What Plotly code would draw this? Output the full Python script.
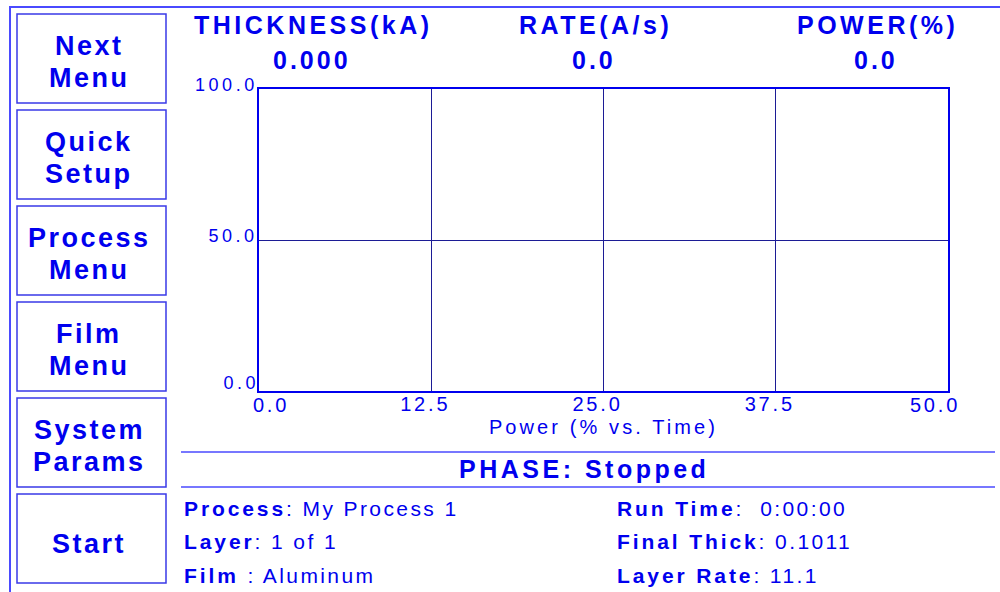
import plotly.graph_objects as go

# ---------------- data ----------------
time_values = []
power_values = []
x_range = [0, 50]
y_range = [0, 100]
x_tick_values = [0.0, 12.5, 25.0, 37.5, 50.0]
x_tick_labels = ["0.0", "12.5", "25.0", "37.5", "50.0"]
y_tick_values = [0.0, 50.0, 100.0]
y_tick_labels = ["0.0", "50.0", "100.0"]
x_title = "Power (% vs. Time)"
readout_labels = ["THICKNESS(kA)", "RATE(A/s)", "POWER(%)"]
readout_values = ["0.000", "0.0", "0.0"]
menu_buttons = [["Next", "Menu"], ["Quick", "Setup"], ["Process", "Menu"],
                ["Film", "Menu"], ["System", "Params"], ["Start"]]
phase_text = "PHASE: Stopped"
info_left_labels = ["Process", "Layer", "Film "]
info_left_values = ["My Process 1", "1 of 1", "Aluminum"]
info_right_labels = ["Run Time", "Final Thick", "Layer Rate"]
info_right_values = ["\u00a00:00:00", "0.1011", "11.1"]

# ---------------- layout helpers ----------------
W, H = 1000, 592
L, R, T, B = 259, 52, 89, 201
PW, PH = W - L - R, H - T - B
FONT = "Liberation Sans, Arial, Helvetica, sans-serif"
BLUE = "#0000ee"
NAVY = "#1c1c95"
LINE_BLUE = "#4a4aff"


def px(x):
    return (x - L) / PW


def py(y):
    return (H - B - y) / PH


def ls(text, spacing):
    return f"<span style='letter-spacing:{spacing}px'>{text}</span>"


fig = go.Figure()
for xa, ya in [("x", "y"), ("x2", "y"), ("x3", "y"), ("x", "y2")]:
    fig.add_trace(go.Scatter(x=time_values, y=power_values, mode="lines", xaxis=xa, yaxis=ya,
                             line=dict(color=BLUE, width=2), showlegend=False))

shapes = []
annotations = []


def text(x, y, s, size, xanchor="center"):
    annotations.append(dict(xref="paper", yref="paper", x=px(x), y=py(y), text=s,
                            showarrow=False, xanchor=xanchor, yanchor="middle",
                            font=dict(family=FONT, size=size, color=BLUE)))


def hline(x0, x1, y, color, width):
    shapes.append(dict(type="line", xref="paper", yref="paper", x0=px(x0), x1=px(x1),
                       y0=py(y), y1=py(y), line=dict(color=color, width=width)))


# outer frame
hline(9, 1000, 7, LINE_BLUE, 2)
shapes.append(dict(type="line", xref="paper", yref="paper", x0=px(10), x1=px(10),
                   y0=py(7), y1=py(592), line=dict(color=LINE_BLUE, width=2)))

# menu buttons
for i, lines in enumerate(menu_buttons):
    top = 14 + 96 * i
    bot = top + 89
    shapes.append(dict(type="rect", xref="paper", yref="paper", x0=px(17), x1=px(166),
                       y0=py(top), y1=py(bot), line=dict(color="#3a3ae8", width=1.5)))
    if len(lines) == 2:
        text(89, top + 32, f"<b>{ls(lines[0], 2.5)}</b>", 27)
        text(89, top + 64, f"<b>{ls(lines[1], 2.5)}</b>", 27)
    else:
        text(89, top + 50, f"<b>{ls(lines[0], 2.5)}</b>", 27)

# readouts
for cx, lab, val in zip([313, 595, 877], readout_labels, readout_values):
    text(cx, 25, f"<b>{ls(lab, 3.5)}</b>", 25)
    text(cx - 1, 60, f"<b>{ls(val, 3)}</b>", 25)

# phase
hline(181, 995, 452, LINE_BLUE, 1.5)
hline(181, 995, 487, LINE_BLUE, 1.5)
text(584, 469, f"<b>{ls(phase_text, 3.5)}</b>", 25)

# info rows
for i in range(3):
    yy = 508 + 33.8 * i
    text(182, yy, f"<b>{ls(info_left_labels[i], 2.9)}</b>{ls(': ' + info_left_values[i], 2.4)}", 21, "left")
    text(615, yy, f"<b>{ls(info_right_labels[i], 2.9)}</b>{ls(': ' + info_right_values[i], 2.4)}", 21, "left")

xfont = dict(family=FONT, size=20, color=BLUE)
yfont = dict(family=FONT, size=18, color=BLUE)


def x_labels(idx):
    return dict(tickmode="array",
                tickvals=[x_tick_values[i] for i in idx],
                ticktext=[ls(x_tick_labels[i], 2.8) for i in idx])


def y_labels(idx):
    return dict(tickmode="array",
                tickvals=[y_tick_values[i] for i in idx],
                ticktext=[ls(y_tick_labels[i], 3.5) for i in idx])


extra_axis = dict(showgrid=False, showline=False, zeroline=False, ticks="", fixedrange=True)

fig.update_layout(
    width=W, height=H,
    margin=dict(l=L, r=R, t=T, b=B, pad=0),
    paper_bgcolor="white", plot_bgcolor="white",
    shapes=shapes, annotations=annotations,
    showlegend=False,
    xaxis=dict(range=x_range, **x_labels([1, 2, 3]),
               tickfont=xfont, ticklabelshift=-6, ticklabelstandoff=-6,
               showgrid=True, gridcolor=NAVY, gridwidth=1, zeroline=False,
               showline=True, linecolor=BLUE, linewidth=1.5, mirror=True,
               ticks="", fixedrange=True,
               title=dict(text=ls(x_title, 3.1), standoff=6,
                          font=dict(family=FONT, size=20, color=BLUE))),
    xaxis2=dict(range=x_range, overlaying="x", anchor="y", side="bottom",
                **x_labels([0]), tickfont=xfont, ticklabelshift=12,
                ticklabelstandoff=0, **extra_axis),
    xaxis3=dict(range=x_range, overlaying="x", anchor="y", side="bottom",
                **x_labels([4]), tickfont=xfont, ticklabelshift=-13,
                ticklabelstandoff=0, **extra_axis),
    yaxis=dict(range=y_range, **y_labels([1, 2]),
               tickfont=yfont, ticklabelstandoff=-4, ticklabelshift=-4,
               showgrid=True, gridcolor=NAVY, gridwidth=1, zeroline=False,
               showline=True, linecolor=BLUE, linewidth=1.5, mirror=True,
               ticks="", fixedrange=True),
    yaxis2=dict(range=y_range, overlaying="y", anchor="x", side="left",
                **y_labels([0]), tickfont=yfont, ticklabelstandoff=-1,
                ticklabelshift=-8, **extra_axis),
)

fig.write_html("out.html", config={"displayModeBar": False},
               post_script="document.body.style.margin='0';")
